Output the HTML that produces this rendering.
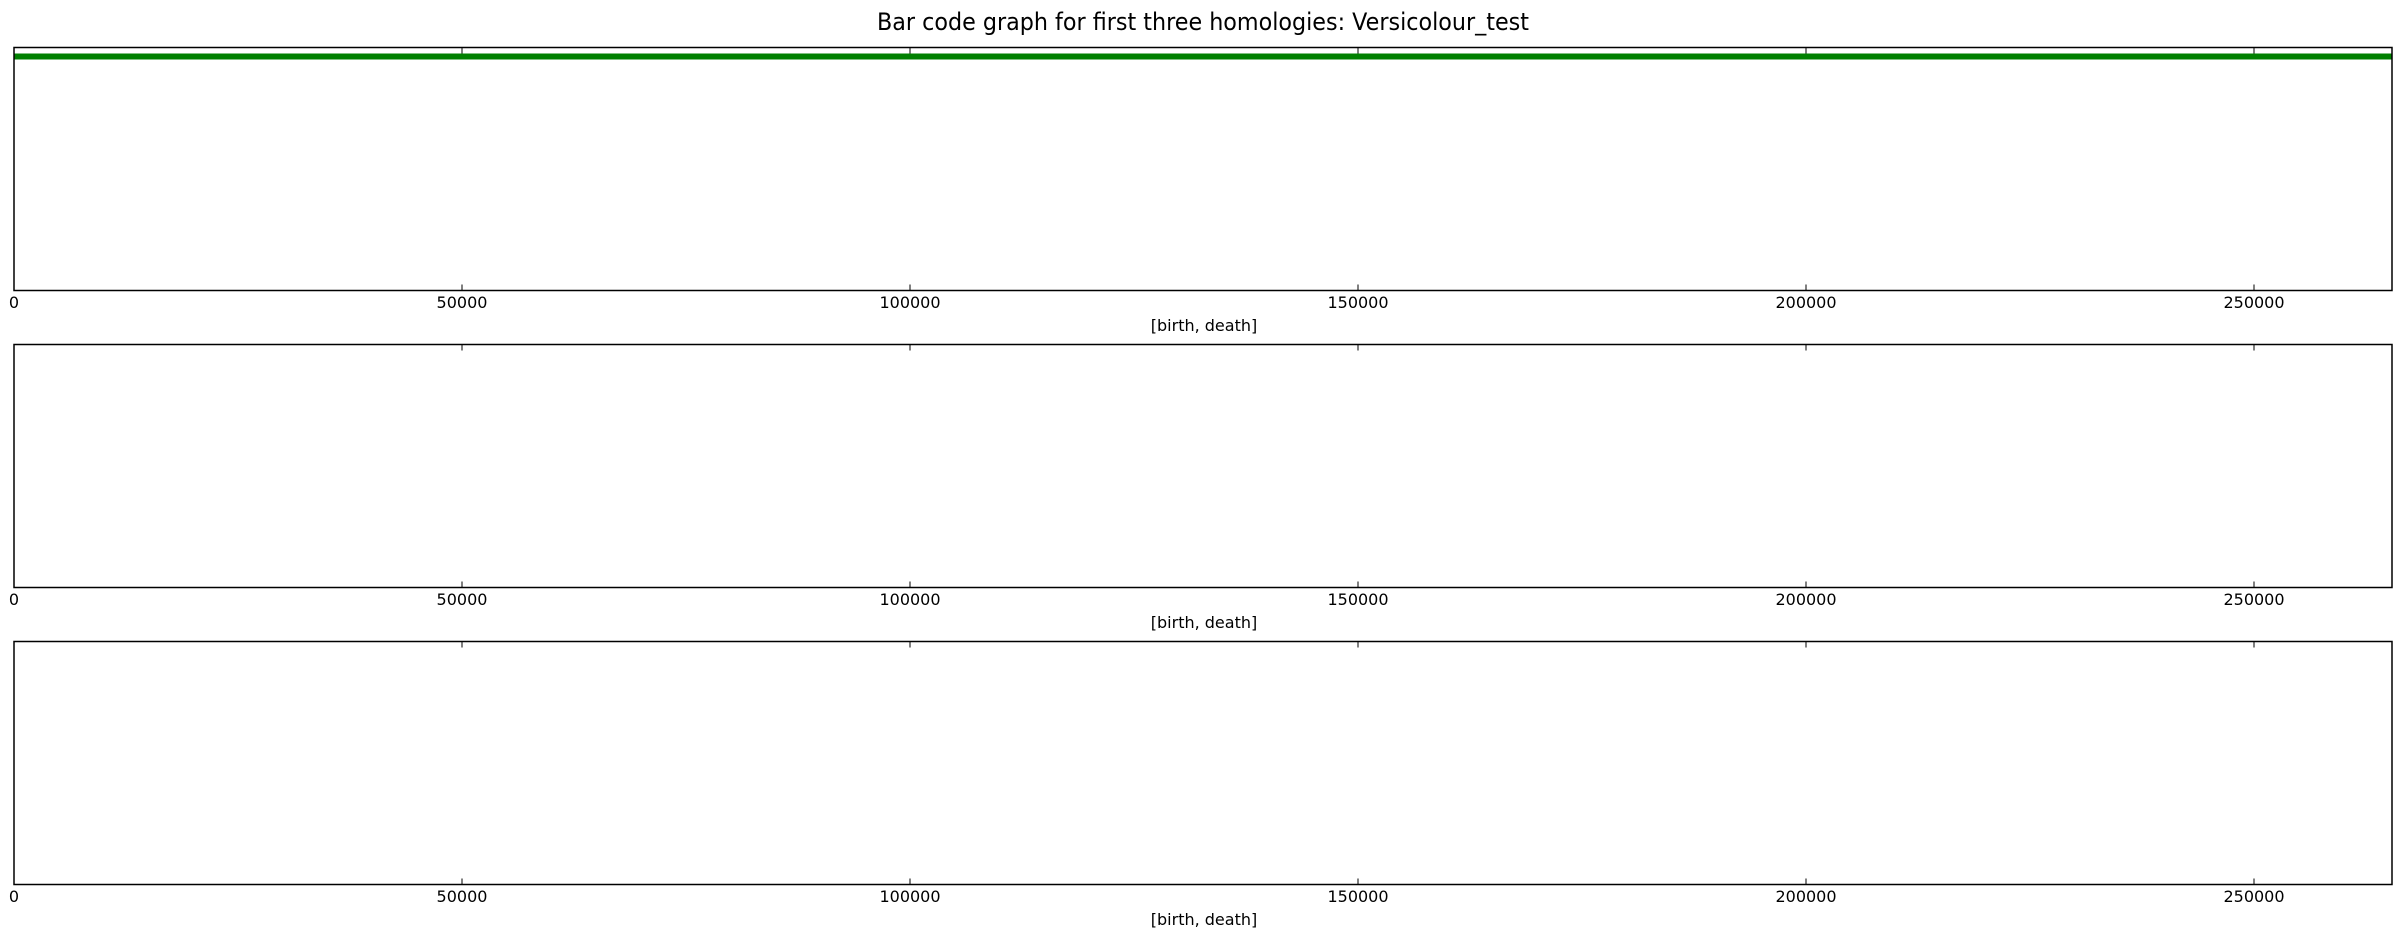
<!DOCTYPE html>
<html><head><style>html,body{margin:0;padding:0;background:#fff}svg{display:block}</style></head>
<body>
<svg width="2403" height="936" xmlns="http://www.w3.org/2000/svg" font-family="DejaVu Sans, Liberation Sans, sans-serif">
<rect width="2403" height="936" fill="#fff"/>
<text x="1203" y="30" font-size="24" text-anchor="middle" textLength="652" lengthAdjust="spacingAndGlyphs">Bar code graph for first three homologies: Versicolour_test</text>
<g id="p1">
<line x1="14" y1="56.5" x2="2392" y2="56.5" stroke="#008000" stroke-width="6"/>
</g>
<g fill="none" stroke="#000" stroke-width="1.5">
<rect x="14" y="47.5" width="2378" height="243"/>
<rect x="14" y="344.5" width="2378" height="243"/>
<rect x="14" y="641.5" width="2378" height="243"/>
</g>
<g stroke="#000" stroke-width="1">
<path d="M462 47.5v6M910 47.5v6M1358 47.5v6M1806 47.5v6M2254 47.5v6M462 290.5v-6M910 290.5v-6M1358 290.5v-6M1806 290.5v-6M2254 290.5v-6"/>
<path d="M462 344.5v6M910 344.5v6M1358 344.5v6M1806 344.5v6M2254 344.5v6M462 587.5v-6M910 587.5v-6M1358 587.5v-6M1806 587.5v-6M2254 587.5v-6"/>
<path d="M462 641.5v6M910 641.5v6M1358 641.5v6M1806 641.5v6M2254 641.5v6M462 884.5v-6M910 884.5v-6M1358 884.5v-6M1806 884.5v-6M2254 884.5v-6"/>
</g>
<g font-size="16" text-anchor="middle">
<g transform="translate(0,0)">
<text x="14" y="308">0</text><text x="462" y="308">50000</text><text x="910" y="308">100000</text><text x="1358" y="308">150000</text><text x="1806" y="308">200000</text><text x="2254" y="308">250000</text>
<text x="1204" y="331">[birth, death]</text>
</g>
<g transform="translate(0,297)">
<text x="14" y="308">0</text><text x="462" y="308">50000</text><text x="910" y="308">100000</text><text x="1358" y="308">150000</text><text x="1806" y="308">200000</text><text x="2254" y="308">250000</text>
<text x="1204" y="331">[birth, death]</text>
</g>
<g transform="translate(0,594)">
<text x="14" y="308">0</text><text x="462" y="308">50000</text><text x="910" y="308">100000</text><text x="1358" y="308">150000</text><text x="1806" y="308">200000</text><text x="2254" y="308">250000</text>
<text x="1204" y="331">[birth, death]</text>
</g>
</g>
</svg>
</body></html>
